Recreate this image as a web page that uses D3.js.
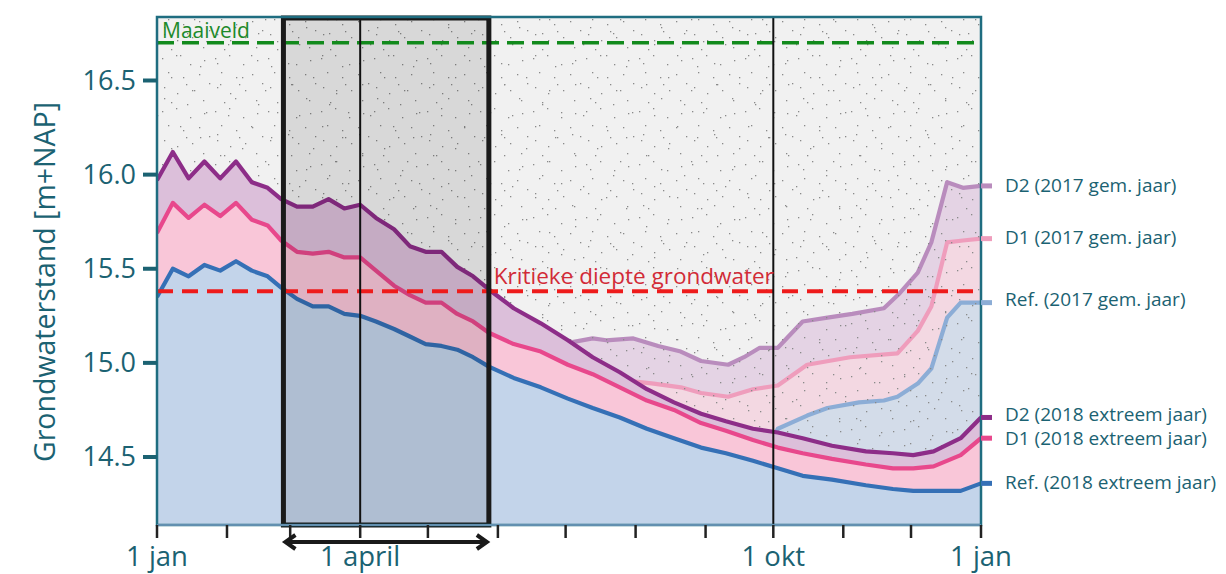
<!DOCTYPE html>
<html><head><meta charset="utf-8">
<script src="https://cdn.jsdelivr.net/npm/d3@7"></script>
<style>body{margin:0;background:#fff;} svg{display:block;font-family:'Open Sans',sans-serif;}</style>
</head><body><svg id="c" width="1226" height="574"></svg>
<script>
// ---- data (day of year, groundwater level m+NAP) ----
const days2018 = [0,7,14,21,28,35,42,49,55,62,69,76,83,90,97,105,112,119,126,133,140,147,
  158,170,182,193,205,217,229,241,252,264,275,286,299,314,326,335,344,356,365];
const d2_2018 = [15.97,16.12,15.98,16.07,15.98,16.07,15.96,15.93,15.87,15.83,15.83,15.87,15.82,15.84,15.77,15.71,15.62,15.59,15.59,15.51,15.46,15.39,
  15.29,15.21,15.12,15.03,14.95,14.86,14.79,14.73,14.69,14.65,14.63,14.60,14.56,14.53,14.52,14.51,14.53,14.60,14.71];
const d1_2018 = [15.69,15.85,15.77,15.84,15.78,15.85,15.76,15.73,15.65,15.59,15.58,15.59,15.56,15.56,15.49,15.41,15.36,15.32,15.32,15.26,15.22,15.16,
  15.10,15.06,14.99,14.94,14.87,14.80,14.75,14.68,14.64,14.59,14.55,14.52,14.49,14.46,14.44,14.44,14.45,14.51,14.60];
const ref_2018 = [15.35,15.50,15.46,15.52,15.49,15.54,15.49,15.46,15.40,15.34,15.30,15.30,15.26,15.25,15.22,15.18,15.14,15.10,15.09,15.07,15.03,14.98,
  14.92,14.87,14.81,14.76,14.71,14.65,14.60,14.55,14.52,14.48,14.44,14.40,14.38,14.35,14.33,14.32,14.32,14.32,14.36];

const daysD2_2017 = [184,193,199,211,222,232,241,253,260,267,275,286,297,308,322,329,337,343,350,357,365];
const d2_2017 = [15.11,15.13,15.12,15.13,15.09,15.06,15.01,14.99,15.03,15.08,15.08,15.22,15.24,15.26,15.29,15.37,15.48,15.64,15.96,15.93,15.94];
const daysD1_2017 = [205,220,232,241,253,264,275,288,307,328,337,343,350,357,365];
const d1_2017 = [14.91,14.89,14.87,14.84,14.82,14.86,14.88,14.99,15.03,15.05,15.17,15.30,15.64,15.65,15.66];
const daysRef_2017 = [272,275,288,297,311,322,328,337,343,350,356,365];
const ref_2017 = [14.59,14.65,14.72,14.76,14.79,14.80,14.82,14.89,14.97,15.24,15.32,15.32];

const maaiveld = 16.70;
const kritiek = 15.38;
const yTicks = [14.5,15.0,15.5,16.0,16.5];
const monthDays = [0,31,59,90,120,151,181,212,243,273,304,334,365];
const xLabels = {0:"1 jan",90:"1 april",273:"1 okt",365:"1 jan"};
const boxDays = [56,147];
const seriesNames = ["D2 (2017 gem. jaar)","D1 (2017 gem. jaar)","Ref. (2017 gem. jaar)",
  "D2 (2018 extreem jaar)","D1 (2018 extreem jaar)","Ref. (2018 extreem jaar)"];
const labelNudge = [0,0,-2,-2,1,0];

// ---- layout ----
const L=157,R=981,T=17,B=525;
const teal="#1b6272", axisTeal="#1f6d80";
const svg=d3.select("#c");
const x=d3.scaleLinear().domain([0,365]).range([L,R]);
const y=d3.scaleLinear().domain([14.5,16.5]).range([457,80.5]);

const defs=svg.append("defs");
defs.append("clipPath").attr("id","plot").append("rect").attr("x",L).attr("y",T).attr("width",R-L).attr("height",B-T);
// stipple texture
function addPattern(id,size,pts){
  const p=defs.append("pattern").attr("id",id).attr("patternUnits","userSpaceOnUse").attr("width",size).attr("height",size);
  pts.forEach(([a,b])=>p.append("rect").attr("x",a).attr("y",b).attr("width",1.3).attr("height",1.3).attr("fill","#8a8a8a"));
}
addPattern("dotsA",53,[[3,5],[17,2],[31,11],[45,7],[9,19],[24,24],[40,21],[50,30],[5,34],[18,40],[33,37],[44,47],[12,49],[27,31]]);
addPattern("dotsB",71,[[7,13],[29,6],[52,19],[64,41],[15,44],[38,55],[58,66],[22,27],[45,33],[4,63]]);

const g=svg.append("g").attr("clip-path","url(#plot)");
g.append("rect").attr("x",L).attr("y",T).attr("width",R-L).attr("height",B-T).attr("fill","#f1f1f1");

const area=d3.area().x(d=>x(d[0])).y0(B).y1(d=>y(d[1]));
const line=d3.line().x(d=>x(d[0])).y(d=>y(d[1]));
const zip=(ds,vs)=>ds.map((d,i)=>[d,vs[i]]);

const s17=[
  {data:zip(daysD2_2017,d2_2017),fill:"#e4d3e4",stroke:"#b98cbd"},
  {data:zip(daysD1_2017,d1_2017),fill:"#f3d8e2",stroke:"#ef9dbc"},
  {data:zip(daysRef_2017,ref_2017),fill:"#d3dce9",stroke:"#8cadd6"}];
const s18=[
  {data:zip(days2018,d2_2018),fill:"#dcbfda",stroke:"#8d2d88"},
  {data:zip(days2018,d1_2018),fill:"#f9c6d8",stroke:"#e8488c"},
  {data:zip(days2018,ref_2018),fill:"#c3d4ea",stroke:"#3570b6"}];

s17.forEach(s=>g.append("path").attr("d",area(s.data)).attr("fill",s.fill));
s17.forEach(s=>g.append("path").attr("d",line(s.data)).attr("fill","none").attr("stroke",s.stroke).attr("stroke-width",4.2).attr("stroke-linejoin","round"));
g.append("rect").attr("x",L).attr("y",T).attr("width",R-L).attr("height",B-T).attr("fill","url(#dotsA)");
g.append("rect").attr("x",L).attr("y",T).attr("width",R-L).attr("height",B-T).attr("fill","url(#dotsB)");
s18.forEach(s=>g.append("path").attr("d",area(s.data)).attr("fill",s.fill));
s18.forEach(s=>g.append("path").attr("d",line(s.data)).attr("fill","none").attr("stroke",s.stroke).attr("stroke-width",4.2).attr("stroke-linejoin","round"));

// highlighted period box shading
g.append("rect").attr("x",x(boxDays[0])).attr("y",T).attr("width",x(boxDays[1])-x(boxDays[0])).attr("height",B-T).attr("fill","rgba(0,0,0,0.1)");

// reference lines
g.append("line").attr("x1",L).attr("x2",R).attr("y1",y(maaiveld)).attr("y2",y(maaiveld)).attr("stroke","#128a1c").attr("stroke-width",3.5).attr("stroke-dasharray","17,8");
g.append("line").attr("x1",L).attr("x2",R).attr("y1",y(kritiek)).attr("y2",y(kritiek)).attr("stroke","#ee1b1b").attr("stroke-width",4).attr("stroke-dasharray","16,9");
[90,273].forEach(d=>g.append("line").attr("x1",x(d)).attr("x2",x(d)).attr("y1",T).attr("y2",B).attr("stroke","#111").attr("stroke-width",2));

svg.append("text").attr("x",L+5).attr("y",y(maaiveld)-5).attr("fill","#1d8a2a").attr("font-size",21).text("Maaiveld");
svg.append("text").attr("x",x(boxDays[1])+5).attr("y",y(kritiek)-7).attr("fill","#d22b37").attr("font-size",22.5).text("Kritieke diepte grondwater");

// box border
svg.append("rect").attr("x",x(boxDays[0])).attr("y",T+1).attr("width",x(boxDays[1])-x(boxDays[0])).attr("height",B-T-1).attr("fill","none").attr("stroke","#1a1a1a").attr("stroke-width",5);

// plot frame
svg.append("rect").attr("x",L).attr("y",T).attr("width",R-L).attr("height",B-T).attr("fill","none").attr("stroke",axisTeal).attr("stroke-width",2.5);
svg.append("line").attr("x1",L).attr("x2",R).attr("y1",B).attr("y2",B).attr("stroke","#7a9cc0").attr("stroke-width",1.5);

// y axis
yTicks.forEach(v=>{
  svg.append("line").attr("x1",L-14).attr("x2",L).attr("y1",y(v)).attr("y2",y(v)).attr("stroke",teal).attr("stroke-width",4);
  svg.append("text").attr("x",L-21).attr("y",y(v)).attr("dy","0.35em").attr("text-anchor","end").attr("fill",teal).attr("font-size",27).text(d3.format(".1f")(v));
});
svg.append("text").attr("transform",`translate(55,282) rotate(-90)`).attr("text-anchor","middle").attr("fill",teal).attr("font-size",28.5).text("Grondwaterstand [m+NAP]");

// x axis
monthDays.forEach(d=>{
  svg.append("line").attr("x1",x(d)).attr("x2",x(d)).attr("y1",B).attr("y2",B+13).attr("stroke","#222").attr("stroke-width",2.5);
  if(xLabels[d]) svg.append("text").attr("x",x(d)).attr("y",B+41).attr("text-anchor","middle").attr("fill",teal).attr("font-size",27.5).text(xLabels[d]);
});

// double arrow under the box
const ay=B+17, ax0=x(boxDays[0])+2, ax1=x(boxDays[1])-2;
svg.append("line").attr("x1",ax0+3).attr("x2",ax1-3).attr("y1",ay).attr("y2",ay).attr("stroke","#1a1a1a").attr("stroke-width",4);
svg.append("path").attr("d",`M${ax0+10},${ay-7}L${ax0},${ay}L${ax0+10},${ay+7}`).attr("fill","none").attr("stroke","#1a1a1a").attr("stroke-width",4);
svg.append("path").attr("d",`M${ax1-10},${ay-7}L${ax1},${ay}L${ax1-10},${ay+7}`).attr("fill","none").attr("stroke","#1a1a1a").attr("stroke-width",4);

// right labels with stubs
const ends=[...s17,...s18].map((s,i)=>({name:seriesNames[i],v:s.data[s.data.length-1][1],stroke:s.stroke,n:labelNudge[i]}));
ends.forEach(e=>{
  svg.append("line").attr("x1",R).attr("x2",R+11).attr("y1",y(e.v)).attr("y2",y(e.v)).attr("stroke",e.stroke).attr("stroke-width",5);
  svg.append("text").attr("x",R+24).attr("y",y(e.v)-1+e.n).attr("dy","0.35em").attr("fill",teal).attr("font-size",19).text(e.name);
});
</script></body></html>
